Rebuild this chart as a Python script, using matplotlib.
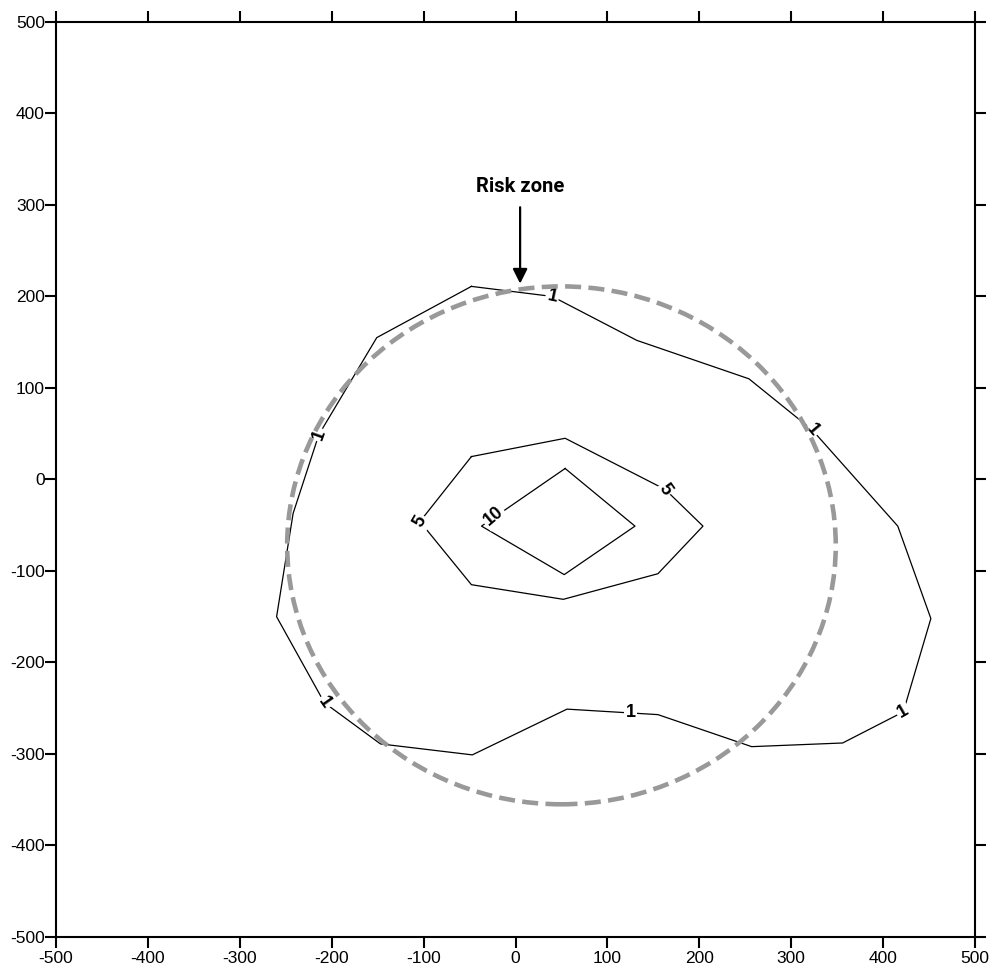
import numpy as np
import matplotlib.pyplot as plt
from matplotlib.patches import Ellipse

plt.rcParams['axes.unicode_minus'] = False

# contour polylines (closed)
c1_x = [-48, 40, 132, 254, 323, 416, 452, 422, 356, 257, 155, 56, -47, -147, -208, -260, -242, -214, -151, -48]
c1_y = [211, 200, 152, 110, 54, -51, -152, -254, -288, -292, -257, -251, -301, -289, -244, -150, -37, 49, 155, 211]
c5_x = [-48, 54, 163, 204, 155, 52, -48, -104, -48]
c5_y = [25, 45, -11, -51, -103, -131, -115, -46, 25]
c10_x = [54, 130, 53, -37, 54]
c10_y = [12, -51, -104, -51, 12]

# contour labels
lab_text = ['1', '1', '1', '1', '1', '1', '5', '5', '10']
lab_x = [40, 323, 422, 125, -208, -214, 163, -104, -24]
lab_y = [200, 54, -254, -255, -244, 49, -11, -46, -40]
lab_rot = [-12, -50, 30, 0, -55, 70, -55, 60, 40]

# risk zone circle
zone_cx, zone_cy = 50, -72
zone_w, zone_h = 597, 566

ticks = np.arange(-500, 501, 100)

fig = plt.figure(figsize=(10.01, 9.75), dpi=100)
ax = fig.add_axes([0.056, 0.039, 0.918, 0.9385])

ax.add_patch(Ellipse((zone_cx, zone_cy), zone_w, zone_h, fill=False,
                     edgecolor='#999999', lw=3.3, ls=(0, (3.5, 1.6)), zorder=3))

for xs, ys in [(c1_x, c1_y), (c5_x, c5_y), (c10_x, c10_y)]:
    ax.plot(xs, ys, color='black', lw=0.9, zorder=2)

for t, x, y, r in zip(lab_text, lab_x, lab_y, lab_rot):
    ax.text(x, y, t, rotation=r, ha='center', va='center', fontsize=13,
            fontweight='bold', family='Liberation Sans', zorder=2.5,
            bbox=dict(boxstyle='square,pad=0.1', fc='white', ec='none'))

ax.annotate('Risk zone', xy=(5, 214), xytext=(5, 320), ha='center', va='center',
            fontsize=14.5, fontweight='bold', family=['Roboto', 'DejaVu Sans'],
            arrowprops=dict(arrowstyle='-|>', color='black', lw=1.6,
                            mutation_scale=22, shrinkA=6, shrinkB=0),
            zorder=4)

ax.set_xlim(-500, 500)
ax.set_ylim(-500, 500)
ax.set_xticks(ticks)
ax.set_yticks(ticks)
ax.tick_params(direction='out', length=8, width=1.5, labelsize=12.5,
               top=True, right=True)
ax.tick_params(axis='y', pad=0)
ax.tick_params(axis='x', pad=2)
for lbl in ax.get_xticklabels() + ax.get_yticklabels():
    lbl.set_family('Liberation Sans')
for s in ax.spines.values():
    s.set_linewidth(1.5)

fig.savefig('out.png', dpi=100)
